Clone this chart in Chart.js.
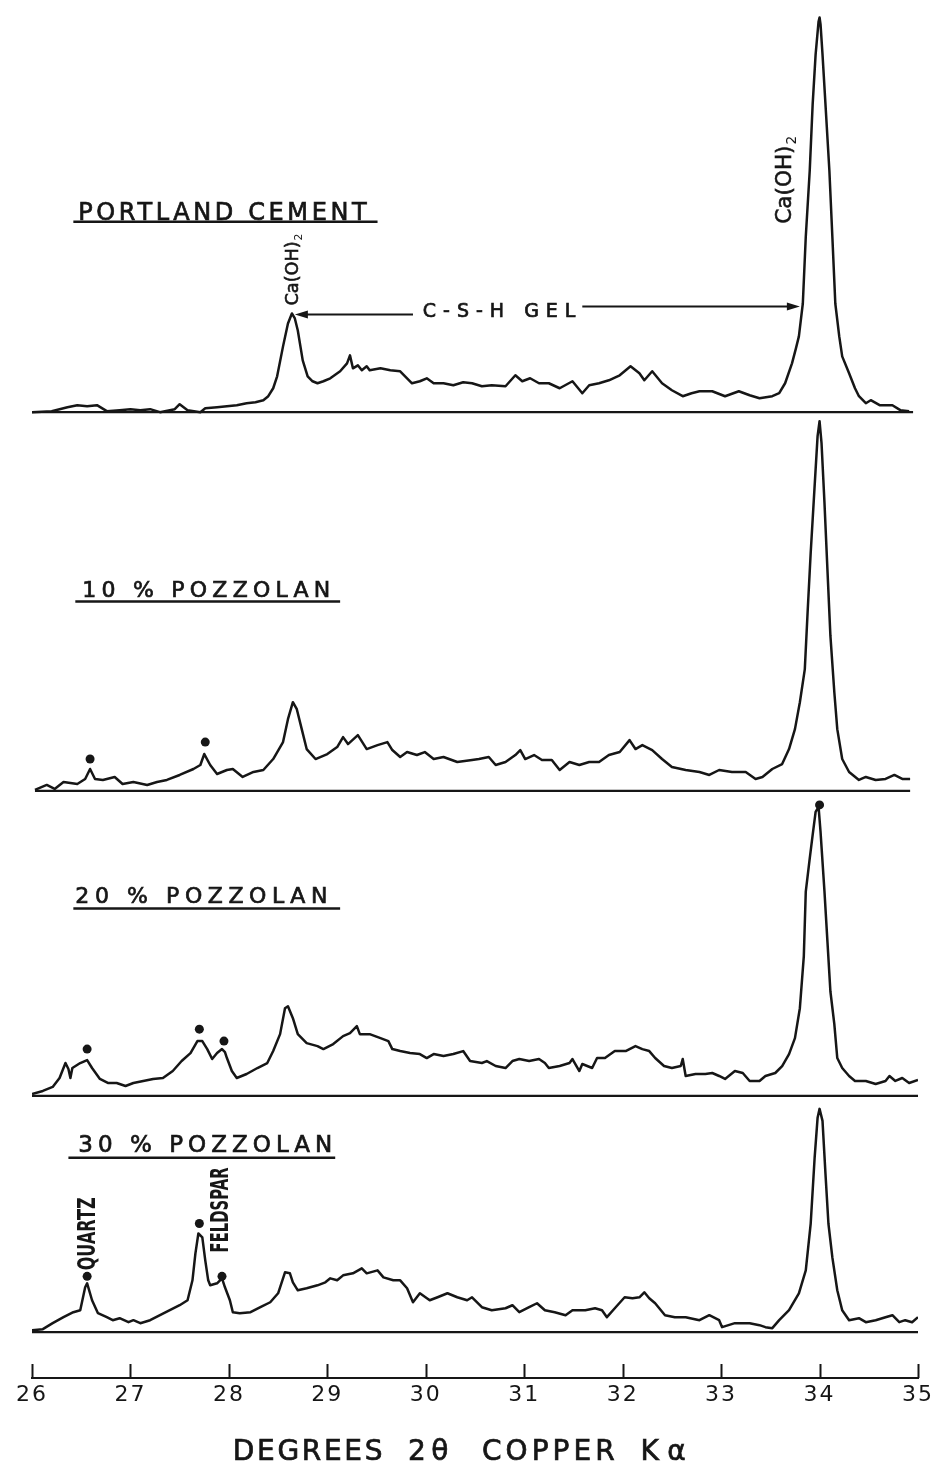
<!DOCTYPE html>
<html>
<head>
<meta charset="utf-8">
<script src="https://cdn.jsdelivr.net/npm/chart.js@4.4.1/dist/chart.umd.min.js"></script>
<style>
  html, body { margin: 0; padding: 0; background: #ffffff; }
  canvas { display: block; }
</style>
</head>
<body>
<canvas id="xrd" width="944" height="1468"></canvas>
<script>
// Diffractometer traces: [2θ in degrees, counts above the trace's own baseline]
const portland = [
  [26.00,0],[26.20,1],[26.36,5],[26.46,7],[26.56,6],[26.66,7],[26.76,1],[26.89,2],[27.00,3],[27.10,2],
  [27.20,3],[27.30,0],[27.45,3],[27.50,8],[27.58,2],[27.71,0],[27.76,4],[27.88,5],[27.98,6],[28.08,7],
  [28.18,9],[28.27,10],[28.35,12],[28.40,16],[28.45,24],[28.49,36],[28.55,66],[28.60,89],[28.64,99],[28.67,94],
  [28.70,82],[28.75,52],[28.80,36],[28.85,31],[28.90,29],[28.96,31],[29.03,34],[29.13,41],[29.20,49],[29.23,57],
  [29.26,44],[29.31,47],[29.35,42],[29.40,46],[29.43,42],[29.54,44],[29.64,42],[29.74,41],[29.81,34],[29.86,29],
  [29.94,31],[30.01,34],[30.08,29],[30.18,29],[30.28,27],[30.38,30],[30.47,29],[30.57,26],[30.67,27],[30.81,26],
  [30.91,37],[30.98,31],[31.06,34],[31.15,29],[31.25,29],[31.36,24],[31.49,31],[31.59,19],[31.66,27],[31.76,29],
  [31.86,32],[31.97,37],[32.08,46],[32.17,39],[32.22,32],[32.30,41],[32.40,29],[32.50,22],[32.61,16],[32.70,19],
  [32.78,21],[32.91,21],[33.04,16],[33.18,21],[33.29,17],[33.39,14],[33.52,16],[33.59,19],[33.65,29],[33.72,49],
  [33.76,64],[33.79,76],[33.83,109],[33.86,176],[33.90,242],[33.93,309],[33.96,359],[33.99,392],[34.00,396],[34.01,389],
  [34.03,359],[34.06,309],[34.10,242],[34.13,176],[34.16,109],[34.20,76],[34.23,56],[34.30,39],[34.36,24],[34.40,16],
  [34.47,9],[34.52,12],[34.61,7],[34.74,7],[34.82,2],[34.91,1]
];

const pozzolan10 = [
  [26.03,1],[26.15,6],[26.23,2],[26.32,9],[26.46,7],[26.54,12],[26.59,22],[26.64,12],[26.72,11],[26.84,14],
  [26.92,7],[27.03,9],[27.17,6],[27.27,9],[27.37,11],[27.50,16],[27.64,22],[27.71,26],[27.75,37],[27.81,26],
  [27.88,17],[27.98,21],[28.04,22],[28.14,14],[28.25,19],[28.35,21],[28.45,32],[28.55,49],[28.60,72],[28.65,89],
  [28.69,82],[28.74,62],[28.79,42],[28.88,32],[29.00,37],[29.10,44],[29.16,54],[29.21,47],[29.31,56],[29.40,42],
  [29.51,46],[29.61,49],[29.66,41],[29.74,34],[29.81,39],[29.91,36],[29.99,39],[30.08,32],[30.18,34],[30.32,29],
  [30.47,31],[30.54,32],[30.64,34],[30.71,26],[30.81,29],[30.91,36],[30.96,41],[31.01,32],[31.10,36],[31.18,31],
  [31.28,31],[31.36,21],[31.46,29],[31.56,26],[31.66,29],[31.76,29],[31.86,36],[31.97,39],[32.07,51],[32.13,42],
  [32.20,46],[32.30,41],[32.40,32],[32.50,24],[32.64,21],[32.78,19],[32.88,16],[32.98,21],[33.11,19],[33.25,19],
  [33.35,12],[33.42,14],[33.52,22],[33.62,27],[33.69,42],[33.75,62],[33.80,89],[33.85,122],[33.88,182],[33.91,239],
  [33.95,306],[33.98,356],[34.00,371],[34.02,349],[34.05,289],[34.08,222],[34.11,156],[34.15,99],[34.18,62],[34.23,32],
  [34.30,19],[34.40,11],[34.47,14],[34.57,11],[34.67,12],[34.76,16],[34.84,12],[34.92,12]
];

const pozzolan20 = [
  [26.00,2],[26.11,5],[26.21,9],[26.28,18],[26.34,33],[26.37,27],[26.39,18],[26.41,28],[26.49,33],[26.56,36],
  [26.61,28],[26.69,17],[26.77,13],[26.86,13],[26.95,10],[27.03,13],[27.13,15],[27.23,17],[27.33,18],[27.43,25],
  [27.52,35],[27.61,43],[27.68,55],[27.73,55],[27.78,47],[27.83,37],[27.88,43],[27.93,47],[27.96,44],[27.98,38],
  [28.03,25],[28.08,18],[28.18,22],[28.29,28],[28.39,33],[28.45,45],[28.52,62],[28.57,88],[28.60,90],[28.65,78],
  [28.70,62],[28.79,53],[28.90,50],[28.96,47],[29.06,52],[29.16,60],[29.23,63],[29.30,70],[29.33,62],[29.43,62],
  [29.54,58],[29.62,55],[29.66,47],[29.74,45],[29.84,43],[29.94,42],[30.01,38],[30.08,42],[30.18,40],[30.28,42],
  [30.38,45],[30.45,35],[30.57,33],[30.62,35],[30.71,30],[30.81,28],[30.88,35],[30.95,37],[31.05,35],[31.15,37],
  [31.21,33],[31.25,28],[31.36,30],[31.46,33],[31.49,37],[31.56,25],[31.59,32],[31.69,28],[31.74,38],[31.82,38],
  [31.92,45],[32.03,45],[32.13,50],[32.20,47],[32.27,45],[32.33,38],[32.42,30],[32.50,28],[32.59,30],[32.61,37],
  [32.64,20],[32.74,22],[32.84,22],[32.91,23],[32.98,20],[33.04,17],[33.14,25],[33.22,23],[33.29,15],[33.39,15],
  [33.45,20],[33.55,23],[33.62,30],[33.69,42],[33.75,58],[33.80,88],[33.84,140],[33.86,205],[33.90,238],[33.93,262],
  [33.96,285],[33.99,290],[34.01,265],[34.05,205],[34.08,155],[34.11,105],[34.15,72],[34.18,38],[34.23,28],[34.30,20],
  [34.36,15],[34.47,15],[34.57,12],[34.67,15],[34.71,20],[34.77,15],[34.84,18],[34.91,13],[35.00,16]
];

const pozzolan30 = [
  [26.00,2],[26.11,3],[26.21,9],[26.32,15],[26.42,20],[26.49,22],[26.54,45],[26.56,49],[26.61,32],[26.67,19],
  [26.76,15],[26.82,12],[26.89,14],[26.98,10],[27.03,12],[27.10,9],[27.20,12],[27.30,17],[27.40,22],[27.50,27],
  [27.58,32],[27.63,52],[27.66,79],[27.69,99],[27.73,95],[27.76,72],[27.79,52],[27.81,47],[27.88,49],[27.93,54],
  [27.96,45],[28.01,32],[28.04,20],[28.11,19],[28.22,20],[28.32,25],[28.42,30],[28.50,39],[28.57,60],[28.62,59],
  [28.65,50],[28.70,42],[28.79,44],[28.90,47],[28.98,50],[29.03,54],[29.10,52],[29.16,57],[29.26,59],[29.35,64],
  [29.40,59],[29.51,62],[29.57,55],[29.67,52],[29.74,52],[29.81,44],[29.87,30],[29.94,39],[30.04,32],[30.12,35],
  [30.22,39],[30.32,35],[30.42,32],[30.47,35],[30.57,25],[30.67,22],[30.81,24],[30.88,27],[30.95,20],[31.05,25],
  [31.13,29],[31.21,22],[31.31,20],[31.42,17],[31.49,22],[31.62,22],[31.72,24],[31.79,22],[31.84,15],[31.92,24],
  [32.02,35],[32.10,34],[32.17,35],[32.22,40],[32.27,34],[32.33,29],[32.43,17],[32.53,15],[32.64,15],[32.78,12],
  [32.88,17],[32.98,12],[33.01,5],[33.14,9],[33.29,9],[33.39,7],[33.45,5],[33.52,4],[33.59,12],[33.69,22],
  [33.79,39],[33.86,62],[33.91,109],[33.95,175],[33.98,215],[34.00,224],[34.03,212],[34.06,159],[34.09,109],[34.13,75],
  [34.18,42],[34.23,22],[34.30,12],[34.40,14],[34.47,10],[34.57,12],[34.67,15],[34.74,17],[34.81,10],[34.87,12],
  [34.94,10],[35.00,15]
];

// Reflections marked with a dot (pozzolan minerals), same units as the traces
const pozzolan10Marks = [[26.59,32],[27.76,49]];
const pozzolan20Marks = [[26.56,47],[27.70,67],[27.95,55],[34.00,292]];
const pozzolan30Marks = [[26.56,56],[27.70,109],[27.93,56]];

// Axis
const tickValues = [26, 27, 28, 29, 30, 31, 32, 33, 34, 35];
const axisTitleWords = ['DEGREES', '2θ', 'COPPER', 'Kα'];

// Layout of the stacked traces: vertical offset of each baseline and its extent in 2θ
const stack = {
  portland:   { offset: 969, from: 26.00, to: 34.95 },
  pozzolan10: { offset: 589, from: 26.03, to: 34.92 },
  pozzolan20: { offset: 283, from: 26.00, to: 35.00 },
  pozzolan30: { offset: 46,  from: 25.98, to: 35.00 }
};

const INK = '#161616';
const FONT = '"DejaVu Sans", "Liberation Sans", sans-serif';

function lift(pairs, offset) {
  return pairs.map(([a, c]) => ({ x: a, y: offset + c }));
}
function traceSet(label, pairs, s) {
  return { label, data: lift(pairs, s.offset), borderColor: INK, borderWidth: 2.5,
           borderJoinStyle: 'round', pointRadius: 0, tension: 0, fill: false };
}
function baseSet(s) {
  return { label: 'baseline', data: [{ x: s.from, y: s.offset }, { x: s.to, y: s.offset }],
           borderColor: INK, borderWidth: 2.2, pointRadius: 0, fill: false };
}
function markSet(pairs, s) {
  return { label: 'mark', data: lift(pairs, s.offset), showLine: false, pointRadius: 4.5,
           pointBackgroundColor: INK, pointBorderColor: INK, pointBorderWidth: 0 };
}

// Sample names with their underline, given in chart units
const sampleTitles = [
  { text: 'PORTLAND CEMENT', from: 26.47, to: 29.40, y: 1171, size: 24, rule: [26.42, 29.51, 1160] },
  { text: '10 % POZZOLAN',   from: 26.51, to: 29.03, y: 792,  size: 22, rule: [26.44, 29.13, 779] },
  { text: '20 % POZZOLAN',   from: 26.44, to: 29.00, y: 485,  size: 22, rule: [26.42, 29.13, 471] },
  { text: '30 % POZZOLAN',   from: 26.47, to: 29.05, y: 235,  size: 23, rule: [26.37, 29.08, 221] }
];

// Vertical peak labels (read bottom to top)
const peakLabels = [
  { text: 'Ca(OH)', sub: '2', x: 28.64, y: 1076, length: 72, size: 18, weight: 'normal' },
  { text: 'Ca(OH)', sub: '2', x: 33.63, y: 1158, length: 88, size: 22, weight: 'normal' },
  { text: 'QUARTZ',   x: 26.55, y: 108, length: 73, size: 25, weight: 'bold' },
  { text: 'FELDSPAR', x: 27.90, y: 126, length: 85, size: 24, weight: 'bold' }
];

// C-S-H gel bracket between the two Ca(OH)2 reflections
const gelArrow = { text: 'C-S-H GEL', textFrom: 29.97, textTo: 31.52, textY: 1071,
                   left: [29.87, 28.67, 1067], right: [31.59, 33.80, 1075] };

// draw text spread between two x positions, thickened a little like pen lettering
function spaced(ctx, text, x1, x2, yBase) {
  ctx.letterSpacing = '0px';
  const natural = ctx.measureText(text).width;
  const n = Array.from(text).length;
  const ls = n > 1 ? (x2 - x1 - natural) / (n - 1) : 0;
  ctx.letterSpacing = ls.toFixed(2) + 'px';
  ctx.textAlign = 'left';
  ctx.fillText(text, x1, yBase);
  ctx.lineWidth = 0.7;
  ctx.strokeText(text, x1, yBase);
  ctx.letterSpacing = '0px';
}

function arrowHead(ctx, tipX, tipY, dir) {
  ctx.beginPath();
  ctx.moveTo(tipX, tipY);
  ctx.lineTo(tipX - dir * 13, tipY - 4);
  ctx.lineTo(tipX - dir * 13, tipY + 4);
  ctx.closePath();
  ctx.fill();
}

const penSpacing = {
  id: 'penSpacing',
  beforeDraw(chart) { chart.ctx.letterSpacing = '2px'; },
  afterDatasetsDraw(chart) { chart.ctx.letterSpacing = '0px'; }
};

const annotations = {
  id: 'annotations',
  afterDraw(chart) {
    const { ctx, scales: { x, y } } = chart;
    const X = v => x.getPixelForValue(v);
    const Y = v => y.getPixelForValue(v);
    ctx.save();
    ctx.fillStyle = INK;
    ctx.strokeStyle = INK;
    ctx.textBaseline = 'alphabetic';
    ctx.letterSpacing = '0px';

    // tick marks standing up from the axis
    ctx.lineWidth = 2;
    x.ticks.forEach(t => {
      const px = Math.round(X(t.value)) + 0.5;
      ctx.beginPath();
      ctx.moveTo(px, y.bottom);
      ctx.lineTo(px, y.bottom - 14);
      ctx.stroke();
    });

    // sample titles, underlined
    sampleTitles.forEach(t => {
      ctx.font = `${t.size}px ${FONT}`;
      spaced(ctx, t.text, X(t.from), X(t.to), Y(t.y) + t.size * 0.365);
      ctx.lineWidth = 2.6;
      ctx.beginPath();
      ctx.moveTo(X(t.rule[0]), Y(t.rule[2]));
      ctx.lineTo(X(t.rule[1]), Y(t.rule[2]));
      ctx.stroke();
    });

    // rotated peak labels
    peakLabels.forEach(p => {
      ctx.save();
      ctx.translate(X(p.x), Y(p.y));
      ctx.rotate(-Math.PI / 2);
      ctx.font = `${p.weight} ${p.size}px ${FONT}`;
      const main = ctx.measureText(p.text).width;
      let subW = 0;
      const subSize = Math.round(p.size * 0.62);
      if (p.sub) {
        ctx.font = `${p.weight} ${subSize}px ${FONT}`;
        subW = ctx.measureText(p.sub).width + 1;
      }
      const sx = p.length / (main + subW);
      ctx.scale(sx, 1);
      const base = p.size * 0.365;
      ctx.font = `${p.weight} ${p.size}px ${FONT}`;
      ctx.textAlign = 'left';
      ctx.fillText(p.text, 0, base);
      if (p.weight === 'normal') { ctx.lineWidth = 0.6; ctx.strokeText(p.text, 0, base); }
      if (p.sub) {
        ctx.font = `${p.weight} ${subSize}px ${FONT}`;
        ctx.fillText(p.sub, main + 1, base + subSize * 0.35);
      }
      ctx.restore();
    });

    // C-S-H gel arrows
    ctx.font = `19px ${FONT}`;
    spaced(ctx, gelArrow.text, X(gelArrow.textFrom), X(gelArrow.textTo), Y(gelArrow.textY) + 19 * 0.365);
    ctx.lineWidth = 1.8;
    const [l0, l1, ly] = gelArrow.left;
    ctx.beginPath(); ctx.moveTo(X(l0), Y(ly)); ctx.lineTo(X(l1) + 10, Y(ly)); ctx.stroke();
    arrowHead(ctx, X(l1), Y(ly), -1);
    const [r0, r1, ry] = gelArrow.right;
    ctx.beginPath(); ctx.moveTo(X(r0), Y(ry)); ctx.lineTo(X(r1) - 10, Y(ry)); ctx.stroke();
    arrowHead(ctx, X(r1), Y(ry), 1);

    // axis title, word by word
    const titleSpans = [[28.04, 29.56], [29.82, 30.23], [30.57, 31.92], [32.18, 32.64]];
    ctx.font = `28px ${FONT}`;
    axisTitleWords.forEach((w, i) => {
      spaced(ctx, w, X(titleSpans[i][0]), X(titleSpans[i][1]), Y(-72) + 28 * 0.365);
    });
    ctx.restore();
  }
};

new Chart(document.getElementById('xrd'), {
  type: 'line',
  data: {
    datasets: [
      baseSet(stack.portland), baseSet(stack.pozzolan10), baseSet(stack.pozzolan20), baseSet(stack.pozzolan30),
      traceSet('Portland cement', portland, stack.portland),
      traceSet('10 % pozzolan', pozzolan10, stack.pozzolan10),
      traceSet('20 % pozzolan', pozzolan20, stack.pozzolan20),
      traceSet('30 % pozzolan', pozzolan30, stack.pozzolan30),
      markSet(pozzolan10Marks, stack.pozzolan10),
      markSet(pozzolan20Marks, stack.pozzolan20),
      markSet(pozzolan30Marks, stack.pozzolan30)
    ]
  },
  options: {
    responsive: false,
    animation: false,
    events: [],
    layout: { padding: { left: 32, right: 26, top: 0, bottom: 0 } },
    plugins: { legend: { display: false }, tooltip: { enabled: false }, title: { display: false } },
    scales: {
      x: {
        type: 'linear', min: 26, max: 35,
        afterBuildTicks: s => { s.ticks = tickValues.map(v => ({ value: v })); },
        afterFit: s => { s.height = 90; },
        border: { display: true, color: INK, width: 2 },
        grid: { drawOnChartArea: false, drawTicks: false },
        ticks: { padding: 4, color: INK, font: { family: FONT, size: 22 }, maxRotation: 0 }
      },
      y: { type: 'linear', min: 0, max: 1378, display: false }
    }
  },
  plugins: [penSpacing, annotations]
});
</script>
</body>
</html>
